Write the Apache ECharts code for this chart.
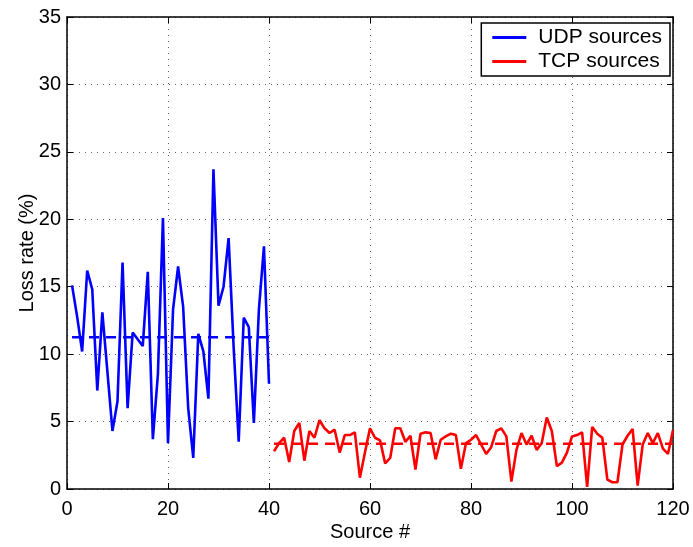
<!DOCTYPE html>
<html>
<head>
<meta charset="utf-8">
<script src="https://cdn.jsdelivr.net/npm/echarts@6/dist/echarts.min.js"></script>
<style>html,body{margin:0;padding:0;background:#fff;}#c{width:693px;height:547px;}</style>
</head>
<body>
<div id="c"></div>
<script>
var udpLoss = [15.1,12.8,10.2,16.2,14.8,7.3,13.1,8.7,4.3,6.5,16.8,6.0,11.6,11.1,10.6,16.1,3.7,8.5,20.1,3.4,
  13.3,16.5,13.5,6.0,2.3,11.5,10.2,6.7,23.7,13.6,15.0,18.6,10.5,3.5,12.7,12.0,4.9,13.3,18.0,7.8];
var tcpLoss = [2.8,3.4,3.8,2.0,4.3,4.9,2.1,4.3,3.8,5.1,4.5,4.15,4.4,2.7,4.0,4.0,4.2,0.84,2.7,4.5,
  3.8,3.6,1.9,2.3,4.5,4.5,3.5,3.95,1.45,4.1,4.2,4.15,2.2,3.65,3.9,4.1,4.0,1.5,3.4,3.65,
  4.0,3.3,2.6,3.1,4.3,4.5,3.9,0.55,2.9,4.15,3.3,3.95,2.9,3.4,5.3,4.3,1.7,1.95,2.7,3.9,
  4.0,4.2,0.15,4.6,4.1,3.8,0.7,0.5,0.5,3.3,3.95,4.45,0.25,3.3,4.15,3.4,4.15,3.0,2.6,4.35];
var udpFirst = 1, tcpFirst = 41;
var udpMean = 11.25, tcpMean = 3.35;
var xTicks = [0,20,40,60,80,100,120];
var yTicks = [0,5,10,15,20,25,30,35];

function pairs(first, vals){ var out=[]; for (var i=0;i<vals.length;i++) out.push([first+i, vals[i]]); return out; }
var udpData = pairs(udpFirst, udpLoss);
var tcpData = pairs(tcpFirst, tcpLoss);
var udpMeanData = [[udpFirst, udpMean],[udpFirst+udpLoss.length-1, udpMean]];
var tcpMeanData = [[tcpFirst, tcpMean],[tcpFirst+tcpLoss.length-1, tcpMean]];

var font = "'Liberation Sans', Arial, Helvetica, sans-serif";
var chart = echarts.init(document.getElementById('c'), null, {renderer:'canvas'});
var gridLine = {show:true, lineStyle:{color:'#666', type:[1,5], width:1}};
var baseX = {type:'value', min:xTicks[0], max:xTicks[xTicks.length-1], interval:20,
  axisLine:{show:true,onZero:false,lineStyle:{color:'#000',width:1.5}},
  axisTick:{show:true,inside:true,length:6,lineStyle:{color:'#000'}}};
var baseY = {type:'value', min:yTicks[0], max:yTicks[yTicks.length-1], interval:5,
  axisLine:{show:true,onZero:false,lineStyle:{color:'#000',width:1.5}},
  axisTick:{show:true,inside:true,length:6,lineStyle:{color:'#000'}}};
chart.setOption({
  animation:false,
  backgroundColor:'#fff',
  grid:{left:67, right:20, top:17, bottom:52, containLabel:false},
  legend:{
    data:['UDP sources','TCP sources'],
    right:23, top:23, orient:'vertical',
    backgroundColor:'#fff', borderColor:'#000', borderWidth:1.5, borderRadius:0,
    padding:[4,8,4,11], itemGap:3, itemWidth:34, itemHeight:3,
    icon:'rect',
    textStyle:{fontFamily:font, fontSize:21, color:'#000', padding:[0,0,0,7]}
  },
  xAxis:[
    Object.assign({}, baseX, {position:'bottom', name:'Source #', nameLocation:'middle', nameGap:33,
      nameMoveOverlap:false,
      nameTextStyle:{fontFamily:font, fontSize:20, color:'#000'},
      axisLabel:{fontFamily:font, fontSize:20, color:'#000', margin:10},
      splitLine:gridLine}),
    Object.assign({}, baseX, {position:'top', axisLabel:{show:false}, splitLine:{show:false}})
  ],
  yAxis:[
    Object.assign({}, baseY, {position:'left', name:'Loss rate (%)', nameLocation:'middle', nameGap:30,
      nameMoveOverlap:false,
      nameTextStyle:{fontFamily:font, fontSize:20, color:'#000'},
      axisLabel:{fontFamily:font, fontSize:20, color:'#000', margin:6},
      splitLine:gridLine}),
    Object.assign({}, baseY, {position:'right', axisLabel:{show:false}, splitLine:{show:false}})
  ],
  series:[
    {name:'UDP sources', type:'line', data:udpData, showSymbol:false, symbol:'none',
      lineStyle:{color:'#0000ff', width:2.6}, itemStyle:{color:'#0000ff'}},
    {name:'TCP sources', type:'line', data:tcpData, showSymbol:false, symbol:'none',
      lineStyle:{color:'#ff0000', width:2.6}, itemStyle:{color:'#ff0000'}},
    {name:'UDP mean', type:'line', data:udpMeanData, symbol:'none',
      lineStyle:{color:'#0000ff', width:2.6, type:[10,7]}},
    {name:'TCP mean', type:'line', data:tcpMeanData, symbol:'none',
      lineStyle:{color:'#ff0000', width:2.6, type:[10,7]}}
  ]
});
</script>
</body>
</html>
